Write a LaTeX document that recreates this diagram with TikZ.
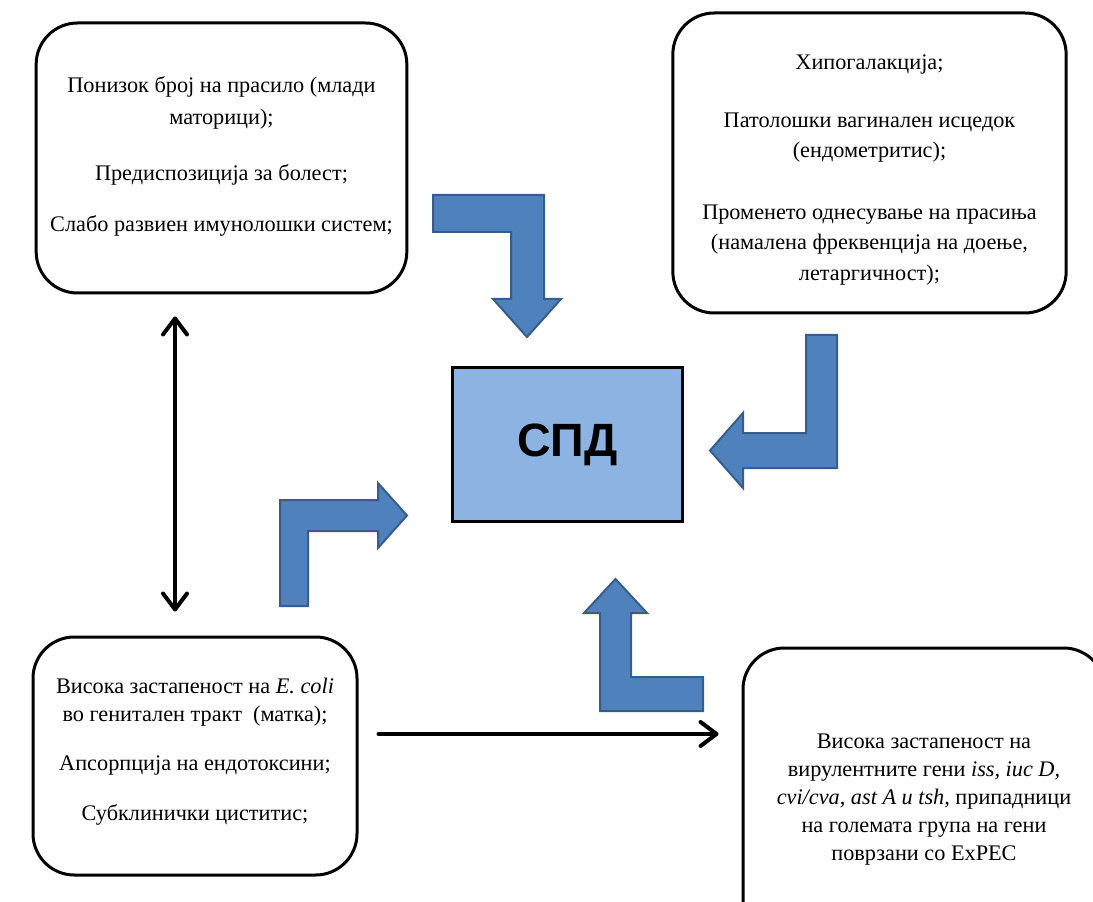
\documentclass[tikz,border=0pt]{standalone}
\usepackage{fontspec}
\setmainfont{Liberation Serif}
\setsansfont{Liberation Sans}
\usetikzlibrary{calc,positioning,arrows.meta}
\definecolor{arrowfill}{HTML}{4F81BD}
\definecolor{arrowline}{HTML}{385D8A}
\definecolor{corefill}{HTML}{8DB3E2}
\begin{document}
\begin{tikzpicture}[x=0.75pt,y=-0.75pt,
  infobox/.style={draw,line width=2.25pt,rounded corners=31pt,inner sep=0pt},
  boxtext/.style={align=center,inner sep=0pt},
  topfont/.style={font=\fontsize{16.7}{24}\selectfont},
  rightfont/.style={font=\fontsize{16.7}{23}\selectfont},
  lowfont/.style={font=\fontsize{16.7}{21}\selectfont},
  bentarrow/.style={fill=arrowfill,draw=arrowline,line width=1.5pt,line join=miter},
  conn/.style={line width=3pt,line cap=round,
    >={Straight Barb[length=12pt,width=18pt,line join=round,line cap=round]}}]
\useasboundingbox (0,0) rectangle (1093,902);
\clip (0,0) rectangle (1093,902);
% central box
\node[draw,line width=2.25pt,fill=corefill,minimum width=172pt,minimum height=116pt,
  font=\sffamily\bfseries\fontsize{35}{40}\selectfont] (spd) at (567.5,444.5) {СПД};
% the four boxes
\node[infobox,minimum width=278pt,minimum height=202.5pt] (tl) at (221.5,158) {};
\node[infobox,minimum width=295pt,minimum height=225pt] (tr) at (869.5,163) {};
\node[infobox,minimum width=243pt,minimum height=178.5pt] (bl) at (195,756) {};
\node[infobox,minimum width=271.5pt,minimum height=223.5pt] (br) at (924,797) {};
% their texts
\node[boxtext,topfont] (tltext) at ($(tl)+(0,-1.5)$)
  {Понизок број на прасило (млади\\ маторици);\\[18pt]
   Предиспозиција за болест;\\[14pt]
   Слабо развиен имунолошки систем;};
\node[boxtext,rightfont] (trtext) at ($(tr)+(0,7)$)
  {Хипогалакција;\\[20pt]
   Патолошки вагинален исцедок\\ (ендометритис);\\[23pt]
   Променето однесување на прасиња\\ (намалена фреквенција на доење,\\ летаргичност);};
\node[boxtext,lowfont] (bltext) at ($(bl)+(0,-4.5)$)
  {Висока застапеност на \textit{E. coli}\\ во генитален тракт\ \ (матка);\\[16pt]
   Апсорпција на ендотоксини;\\[16pt]
   Субклинички циститис;};
\node[boxtext,lowfont] (brtext) at ($(br)+(0,2.5)$)
  {Висока застапеност на\\ вирулентните гени \textit{iss, iuc D,}\\
   \textit{cvi/cva, ast A u tsh,} припадници\\ на големата група на гени\\ поврзани со ExPEC};
% bent block arrows
\draw[bentarrow] (433,195) -- (544,195) -- (544,299) -- (561,299) -- (527,337)
  -- (493,299) -- (511,299) -- (511,232) -- (433,232) -- cycle;
\draw[bentarrow] (806,335) -- (837,335) -- (837,468) -- (743,468) -- (743,488)
  -- (710,450.5) -- (743,413) -- (743,433) -- (806,433) -- cycle;
\draw[bentarrow] (280,606) -- (280,500) -- (378,500) -- (378,483) -- (407,515.5)
  -- (378,548) -- (378,531) -- (308,531) -- (308,606) -- cycle;
\draw[bentarrow] (600,711) -- (600,613) -- (584,613) -- (615.5,579) -- (647,613)
  -- (631,613) -- (631,677) -- (703,677) -- (703,711) -- cycle;
% connectors
\draw[conn,<->] ($(tl.south)+(-46.5,22)$) -- ($(bl.north)+(-20,-24)$);
\draw[conn,->] ($(bl.east)+(20,-22)$) -- ($(br.west)+(-23,-63)$);
\end{tikzpicture}
\end{document}
